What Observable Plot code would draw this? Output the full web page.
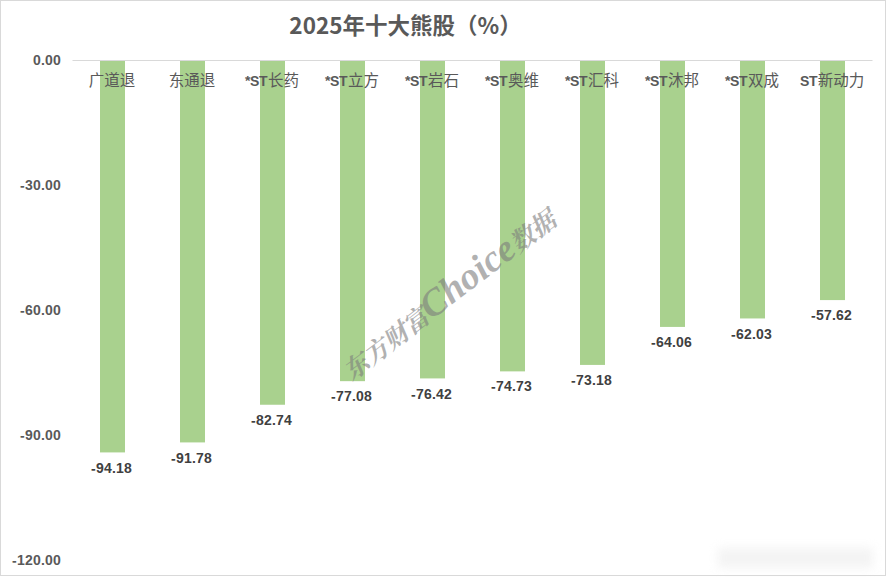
<!DOCTYPE html>
<html lang="zh">
<head>
<meta charset="utf-8">
<script src="https://cdn.jsdelivr.net/npm/d3@7"></script>
<script src="https://cdn.jsdelivr.net/npm/@observablehq/plot@0.6"></script>
<style>
@font-face { font-family: "LatinBold"; src: local("Liberation Sans Bold"), local("LiberationSans-Bold"); unicode-range: U+0000-00FF; }
@font-face { font-family: "LatinLabel"; src: local("Liberation Sans Bold"), local("LiberationSans-Bold"); unicode-range: U+0000-00FF; size-adjust: 90%; }
html, body { margin: 0; background: #fff; }
#page { position: relative; width: 887px; height: 577px; overflow: hidden; }
#frame { position: absolute; left: 0; top: 0; width: 884px; height: 574px; border: 1px solid #d9d9d9; pointer-events: none; }
#title { height: 40px; width: 811px; padding-top: 9px; box-sizing: border-box; text-align: center; font: 700 22.5px/30px "Noto Sans CJK SC", sans-serif; color: #595959; }
#mark { position: absolute; left: 447px; top: 292px; transform: translate(-50%,-50%) rotate(-37.5deg); white-space: nowrap; font: italic 700 38px "Liberation Serif", "Noto Sans CJK SC", serif; color: rgba(125,125,125,.6); pointer-events: none; }
#mark span { font-size: 25px; font-family: "Noto Serif CJK SC", "Noto Sans CJK SC", serif; }
#smudge { position: absolute; left: 718px; top: 548px; width: 155px; height: 20px; background: #e6e6e6; opacity: .45; filter: blur(5px); }
svg { display: block; overflow: visible; }
</style>
</head>
<body>
<div id="page">
  <div id="title">2025年十大熊股（%）</div>
  <div id="chart"></div>
  <div id="mark"><span>东方财富</span>Choice<span>数据</span></div>
  <div id="smudge"></div>
  <div id="frame"></div>
</div>
<script>
const names = ["广道退", "东通退", "*ST长药", "*ST立方", "*ST岩石", "*ST奥维", "*ST汇科", "*ST沐邦", "*ST双成", "ST新动力"];
const changes = [-94.18, -91.78, -82.74, -77.08, -76.42, -74.73, -73.18, -64.06, -62.03, -57.62];
const yTicks = [0, -30, -60, -90, -120];

const rows = names.map((name, i) => ({name, change: changes[i]}));
const f2 = d => d.toFixed(2);

const chart = Plot.plot({
  width: 887,
  height: 537,
  marginTop: 20,
  marginBottom: 17,
  marginLeft: 72.5,
  marginRight: 14.5,
  style: {background: "transparent", overflow: "visible"},
  x: {domain: names, paddingInner: 0.685, paddingOuter: 0.3425, align: 0.5, axis: null},
  y: {domain: [-120, 0], axis: null},
  marks: [
    Plot.barY(rows, {x: "name", y: "change", fill: "#A9D18E"}),
    Plot.ruleY([0], {stroke: "#d9d9d9", strokeWidth: 1}),
    Plot.axisY({
      ticks: yTicks, tickFormat: f2, tickSize: 0, tickPadding: 12, label: null,
      fontFamily: "LatinBold, 'Liberation Sans', sans-serif", fontWeight: 700, fontSize: 14, color: "#595959"
    }),
    Plot.text(names, {
      x: d => d, frameAnchor: "top", dy: 14, dx: -1, lineAnchor: "top",
      fontFamily: "LatinLabel, 'Noto Sans CJK SC', sans-serif", fontSize: 15.5, fill: "#595959"
    }),
    Plot.text(rows, {
      x: "name", y: "change", text: d => f2(d.change), dy: 10, dx: -1.5, lineAnchor: "top",
      fontFamily: "LatinBold, 'Liberation Sans', sans-serif", fontWeight: 700, fontSize: 13.5, fill: "#404040"
    })
  ]
});
document.getElementById("chart").append(chart);
</script>
</body>
</html>
